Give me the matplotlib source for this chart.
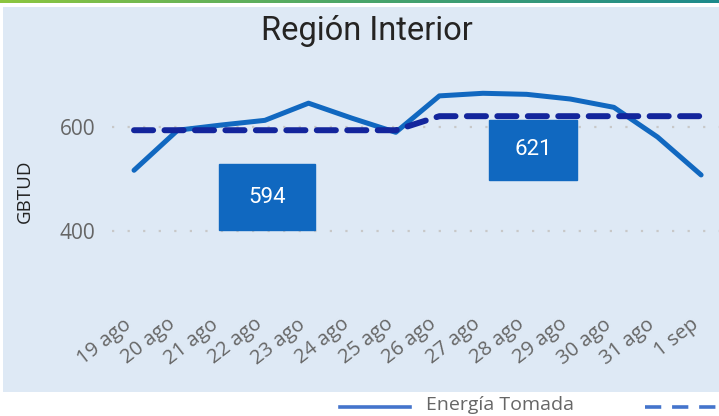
import numpy as np
import matplotlib.pyplot as plt
import matplotlib.transforms as mtransforms
from matplotlib.patches import Rectangle
from matplotlib.lines import Line2D
from matplotlib.colors import LinearSegmentedColormap

# datos
fechas = ['19 ago', '20 ago', '21 ago', '22 ago', '23 ago', '24 ago', '25 ago',
          '26 ago', '27 ago', '28 ago', '29 ago', '30 ago', '31 ago', '1 sep']
energia_tomada = [517, 594, 604, 613, 646, 617, 590, 660, 665, 663, 654, 638, 581, 508]
promedio = [594, 594, 594, 594, 594, 594, 594, 621, 621, 621, 621, 621, 621, 621]
etiquetas = ['594', '621']

W, H = 719, 416
fig = plt.figure(figsize=(W / 100, H / 100), dpi=100, facecolor='white')

# panel de fondo
fondo = fig.add_axes([3 / W, 1 - 392 / H, 716 / W, 385 / H])
fondo.set_facecolor('#dee9f5')
fondo.set_xticks([])
fondo.set_yticks([])
for s in fondo.spines.values():
    s.set_visible(False)

# barra superior en degradado
barra = fig.add_axes([0, 1 - 3 / H, 1, 3 / H])
grad = np.linspace(0, 1, 256).reshape(1, -1)
cmap = LinearSegmentedColormap.from_list('g', ['#8dc63f', '#4aa56a', '#1d8a8c'])
barra.imshow(grad, aspect='auto', cmap=cmap)
barra.axis('off')

fig.text(367 / W, 1 - 31 / H, 'Región Interior', ha='center', va='center',
         fontsize=23.5, color='#252423', family='Roboto')

ax = fig.add_axes([112 / W, 1 - 318 / H, (W - 112) / W, 258 / H])
ax.patch.set_alpha(0)
x = np.arange(len(fechas))
ax.plot(x, energia_tomada, color='#1168c0', lw=3.6, solid_capstyle='round',
        solid_joinstyle='round', zorder=3)
ax.plot(x, promedio, color='#13259c', lw=4.3, ls=(0, (3.2, 1.9)),
        dash_capstyle='round', zorder=4)

ax.set_xlim(-0.505, 13.41)
ax.set_ylim(233, 729)
ax.set_yticks([400, 600])
ax.set_yticklabels(['400', '600'], fontsize=15, color='#666666', family='Open Sans')
ax.set_xticks(x)
ax.set_xticklabels(fechas, rotation=38, ha='right', va='center', rotation_mode='anchor',
                   fontsize=14.5, color='#666666', family='Open Sans')
ax.tick_params(length=0, pad=12)
ax.tick_params(axis='x', pad=3)
desplaza = mtransforms.ScaledTranslation(-5 / 100, 0, fig.dpi_scale_trans)
for lab in ax.get_xticklabels():
    lab.set_transform(lab.get_transform() + desplaza)
for s in ax.spines.values():
    s.set_visible(False)
for yv in [400, 600]:
    ax.axhline(yv, color='#c8c8c8', lw=1.6, ls=(0, (1, 6)), zorder=1)

# etiquetas de datos
cajas = [(3.05, 465, 2.2, 127), (9.15, 556, 2.02, 115)]
for (cx, cy, w, h), t in zip(cajas, etiquetas):
    ax.add_patch(Rectangle((cx - w / 2, cy - h / 2), w, h, color='#1068c0', zorder=5))
    ax.text(cx, cy, t, ha='center', va='center', color='white', fontsize=16,
            family='Roboto', zorder=6)

fig.text(25 / W, 1 - 191 / H, 'GBTUD', rotation=90, ha='center', va='center',
         fontsize=13.5, color='#222222', family='Open Sans')

# leyenda (la segunda entrada queda cortada en el borde)
ly = 1 - 407 / H
fig.lines.append(Line2D([340 / W, 410 / W], [ly, ly], color='#4474cc', lw=2.6,
                        transform=fig.transFigure))
fig.lines.append(Line2D([645 / W, 760 / W], [ly, ly], color='#4474cc', lw=2.6,
                        ls=(0, (4.5, 3)), transform=fig.transFigure))
fig.text(426 / W, 1 - 405 / H, 'Energía Tomada', ha='left', va='center',
         fontsize=14, color='#666666', family='Open Sans')

fig.savefig('out.png', dpi=100)
